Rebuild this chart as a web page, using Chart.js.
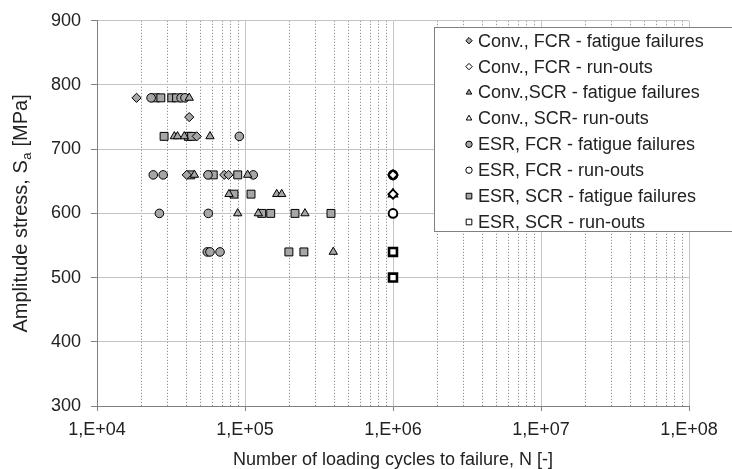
<!DOCTYPE html>
<html><head><meta charset="utf-8">
<style>html,body{margin:0;padding:0;background:#fff;}#wrap{width:732px;height:469px;}</style>
<script src="https://cdn.jsdelivr.net/npm/chart.js@4.4.1/dist/chart.umd.min.js"></script>
</head><body><div id="wrap"><canvas id="c" width="732" height="469"></canvas></div>
<script>
// ---- data (N = cycles, S = amplitude stress, MPa) ----
const seriesLabels = [
  'Conv., FCR - fatigue failures',
  'Conv., FCR - run-outs',
  'Conv.,SCR - fatigue failures',
  'Conv., SCR- run-outs',
  'ESR, FCR - fatigue failures',
  'ESR, FCR - run-outs',
  'ESR, SCR - fatigue failures',
  'ESR, SCR - run-outs'
];
const convFcrFatN = [18500, 42000, 47200, 40400, 72400, 77400];
const convFcrFatS = [780, 750, 720, 660, 660, 660];
const convFcrRunN = [1000000, 1000000];
const convFcrRunS = [660, 630];
const convScrFatN = [42000, 33300, 35000, 38900, 58000, 45500, 104200, 78000, 163800, 177000, 89300, 123000, 254200, 395000];
const convScrFatS = [780, 720, 720, 720, 720, 660, 660, 630, 630, 630, 600, 600, 600, 540];
const convScrRunN = [1000000];
const convScrRunS = [630];
const esrFcrFatN = [23200, 37000, 39300, 91500, 24000, 28000, 56200, 113700, 26400, 56500, 55600, 58000, 67800];
const esrFcrFatS = [780, 780, 780, 720, 660, 660, 660, 660, 600, 600, 540, 540, 540];
const esrFcrRunN = [1000000, 1000000];
const esrFcrRunS = [660, 600];
const esrScrFatN = [24900, 27000, 32000, 34500, 28400, 41400, 43600, 43000, 61000, 89300, 84300, 109800, 129700, 149200, 217700, 381000, 198000, 250000];
const esrScrFatS = [780, 780, 780, 780, 720, 720, 720, 660, 660, 660, 630, 630, 600, 600, 600, 600, 540, 540];
const esrScrRunN = [1000000, 1000000];
const esrScrRunS = [540, 500];
const xTickLabels = ['1,E+04', '1,E+05', '1,E+06', '1,E+07', '1,E+08'];
const yTicks = [300, 400, 500, 600, 700, 800, 900];
const xTitle = 'Number of loading cycles to failure, N [-]';
const yTitleMain = 'Amplitude stress, S';
const yTitleSub = 'a';
const yTitleEnd = ' [MPa]';

const FONT = '"Liberation Sans", Arial, sans-serif';
const GRAY = '#a6a6a6';
const pts = (N, S) => N.map((n, i) => ({x: n, y: S[i]}));
function ds(idx, N, S, style, fill, r, bw) {
  return {label: seriesLabels[idx], data: pts(N, S), pointStyle: style,
    backgroundColor: fill, borderColor: '#000', pointRadius: r, pointBorderWidth: bw,
    pointHoverRadius: r, showLine: false};
}
const datasets = [
  ds(0, convFcrFatN, convFcrFatS, 'rectRot', GRAY, 4.6, 1),
  ds(1, convFcrRunN, convFcrRunS, 'rectRot', '#fff', 4.6, 1.8),
  ds(2, convScrFatN, convScrFatS, 'triangle', GRAY, 4.8, 1),
  ds(3, convScrRunN, convScrRunS, 'triangle', '#fff', 4.8, 1.8),
  ds(4, esrFcrFatN, esrFcrFatS, 'circle', GRAY, 4.3, 1),
  ds(5, esrFcrRunN, esrFcrRunS, 'circle', '#fff', 4.3, 2),
  ds(6, esrScrFatN, esrScrFatS, 'rect', GRAY, 5.6, 1),
  ds(7, esrScrRunN, esrScrRunS, 'rect', '#fff', 5.6, 2.6)
];

const isDecade = v => { const l = Math.log10(v); return Math.abs(l - Math.round(l)) < 1e-9; };

const legendPlugin = {
  id: 'boxLegend',
  afterDraw(chart) {
    const ctx = chart.ctx;
    ctx.save();
    const bx = 434.5, by = 27.5, bw = 320, bh = 204;
    ctx.fillStyle = '#fff';
    ctx.fillRect(bx, by, bw, bh);
    ctx.strokeStyle = '#808080';
    ctx.lineWidth = 1;
    ctx.strokeRect(bx, by, bw, bh);
    ctx.font = '18px ' + FONT;
    ctx.textBaseline = 'middle';
    ctx.textAlign = 'left';
    chart.data.datasets.forEach((d, i) => {
      const y = 40.7 + i * 25.9;
      ctx.fillStyle = d.backgroundColor;
      ctx.strokeStyle = '#000';
      ctx.lineWidth = 1;
      Chart.helpers.drawPoint(ctx, {pointStyle: d.pointStyle, radius: d.pointStyle === 'rect' ? 4 : 3.2, borderWidth: 1}, 469, y);
      ctx.fillStyle = '#222';
      ctx.fillText(d.label, 478, y + 1);
    });
    ctx.restore();
  }
};

const titlePlugin = {
  id: 'axisTitles',
  afterDraw(chart) {
    const ctx = chart.ctx, a = chart.chartArea;
    ctx.save();
    ctx.fillStyle = '#222';
    ctx.font = '18px ' + FONT;
    ctx.textBaseline = 'alphabetic';
    ctx.textAlign = 'center';
    ctx.fillText(xTitle, (a.left + a.right) / 2, 465);
    // y title, rotated, with subscript
    const mainFont = '20px ' + FONT;
    const subFont = '13px ' + FONT;
    ctx.font = mainFont;
    const w1 = ctx.measureText(yTitleMain).width;
    const w3 = ctx.measureText(yTitleEnd).width;
    ctx.font = subFont;
    const w2 = ctx.measureText(yTitleSub).width + 1;
    const total = w1 + w2 + w3;
    ctx.translate(27, (a.top + a.bottom) / 2);
    ctx.rotate(-Math.PI / 2);
    ctx.textAlign = 'left';
    let x0 = -total / 2;
    ctx.font = mainFont;
    ctx.fillText(yTitleMain, x0, 0);
    ctx.font = subFont;
    ctx.fillText(yTitleSub, x0 + w1 + 0.5, 4);
    ctx.font = mainFont;
    ctx.fillText(yTitleEnd, x0 + w1 + w2, 0);
    ctx.restore();
  }
};

new Chart(document.getElementById('c'), {
  type: 'scatter',
  data: {datasets},
  options: {
    responsive: false,
    animation: false,
    layout: {padding: {top: 16, right: 43, left: 0, bottom: 0}},
    plugins: {legend: {display: false}, tooltip: {enabled: false}},
    scales: {
      x: {
        type: 'logarithmic', min: 1e4, max: 1e8,
        afterBuildTicks(scale) {
          const t = [];
          xTickLabels.forEach((lab, k) => {
            const base = Math.pow(10, 4 + k);
            for (let m = 1; m <= 9; m++) {
              const v = m * base;
              if (v <= 1e8) t.push({value: v});
            }
          });
          scale.ticks = t;
        },
        afterFit(scale) { scale.height = 63; },
        ticks: {
          autoSkip: false, maxRotation: 0, minRotation: 0, padding: 8,
          color: '#222', font: {size: 18, family: FONT},
          callback(value) { return isDecade(value) ? xTickLabels[Math.round(Math.log10(value)) - 4] : ''; }
        },
        grid: {
          color: c => (c.tick && !isDecade(c.tick.value)) ? '#7a7a7a' : '#c4c4c4',
          lineWidth: 1,
          tickLength: 5,
          tickColor: c => (c.tick && !isDecade(c.tick.value)) ? 'rgba(0,0,0,0)' : '#808080'
        },
        border: {color: '#808080', width: 1, dash: c => (c.tick && !isDecade(c.tick.value)) ? [1, 2] : []}
      },
      y: {
        type: 'linear', min: 300, max: 900,
        afterBuildTicks(scale) { scale.ticks = yTicks.map(v => ({value: v})); },
        afterFit(scale) { scale.width = 97; },
        ticks: {padding: 10, color: '#222', font: {size: 18, family: FONT}},
        grid: {color: '#c4c4c4', lineWidth: 1, tickLength: 6, tickColor: '#808080'},
        border: {color: '#808080', width: 1}
      }
    }
  },
  plugins: [legendPlugin, titlePlugin]
});
</script></body></html>
